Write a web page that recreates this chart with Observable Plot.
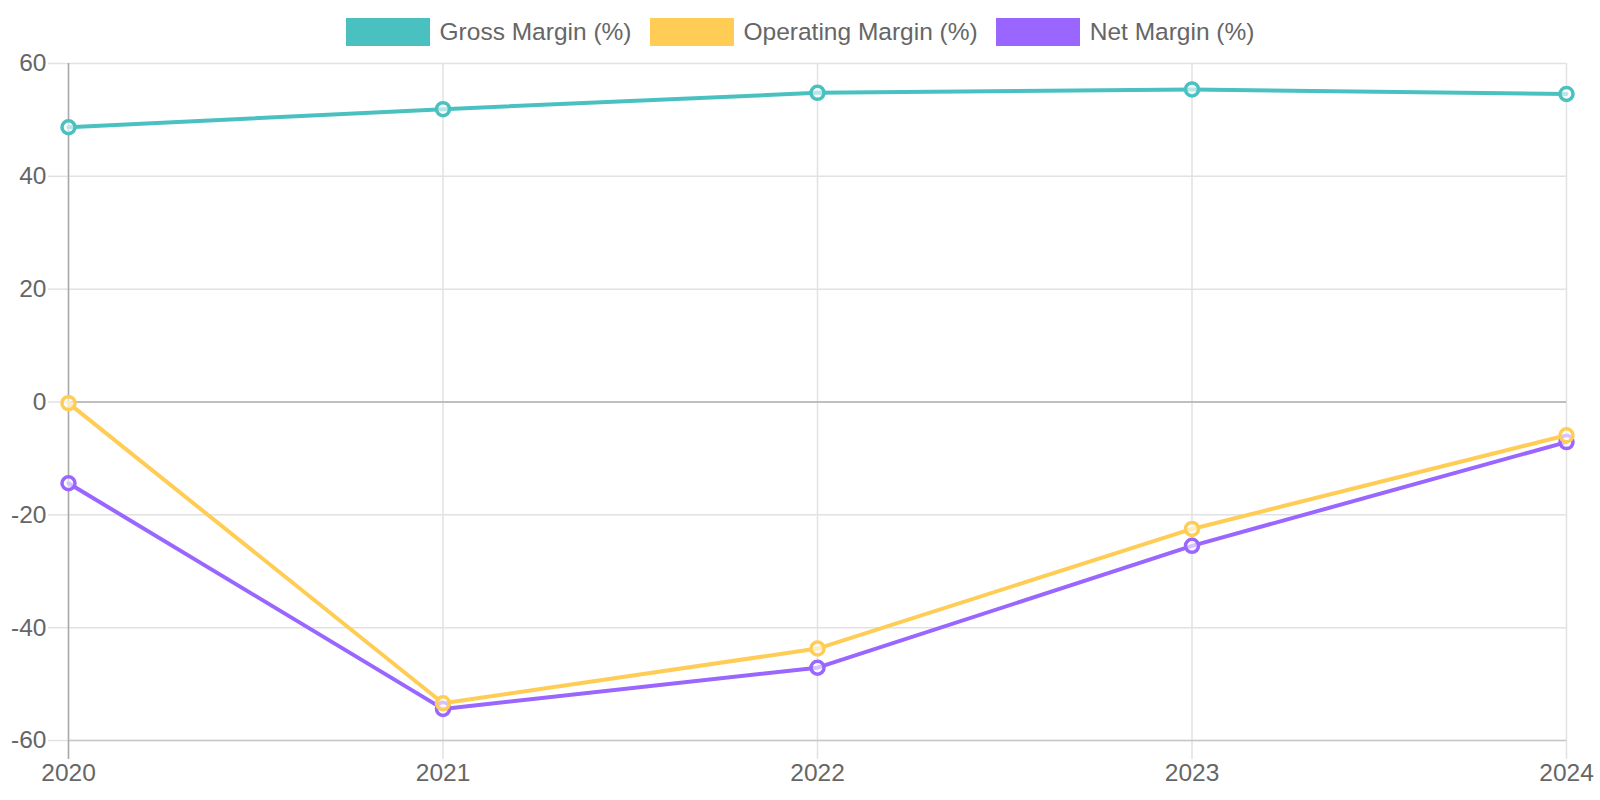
<!DOCTYPE html>
<html>
<head>
<meta charset="utf-8">
<script src="https://cdn.jsdelivr.net/npm/d3@7"></script>
<script src="https://cdn.jsdelivr.net/npm/@observablehq/plot@0.6"></script>
<style>
  html, body { margin: 0; padding: 0; background: #fff; }
  body { width: 1600px; height: 800px; overflow: hidden; font-family: "Liberation Sans", Arial, sans-serif; }
  #legend { height: 50px; display: flex; justify-content: center; align-items: flex-start; padding-top: 18px; box-sizing: border-box; }
  .item { display: flex; align-items: center; margin: 0 9px; color: #666; font-size: 24.5px; }
  .swatch { width: 84px; height: 28px; margin-right: 10px; }
  #chart svg { display: block; }
</style>
</head>
<body>
<div id="legend"></div>
<div id="chart"></div>
<script>
const years = [2020, 2021, 2022, 2023, 2024];
const seriesNames = ["Gross Margin (%)", "Operating Margin (%)", "Net Margin (%)"];
const seriesColors = ["#4BC0C0", "#FFCD56", "#9966FF"];
const grossMargin = [48.7, 51.9, 54.8, 55.4, 54.6];
const operatingMargin = [-0.2, -53.4, -43.7, -22.5, -5.9];
const netMargin = [-14.4, -54.4, -47.1, -25.5, -7.1];
const yTicks = [-60, -40, -20, 0, 20, 40, 60];

const seriesValues = [grossMargin, operatingMargin, netMargin];
// draw order: last dataset first so the first dataset sits on top (as in Chart.js)
const rows = [];
for (let s = seriesNames.length - 1; s >= 0; s--) {
  years.forEach((yr, i) => rows.push({year: yr, value: seriesValues[s][i], series: seriesNames[s]}));
}

// legend
const legend = document.getElementById("legend");
seriesNames.forEach((name, i) => {
  const it = document.createElement("div");
  it.className = "item";
  const sw = document.createElement("div");
  sw.className = "swatch";
  sw.style.background = seriesColors[i];
  const tx = document.createElement("span");
  tx.textContent = name;
  it.appendChild(sw); it.appendChild(tx);
  legend.appendChild(it);
});

const chart = Plot.plot({
  width: 1600,
  height: 750,
  marginLeft: 68,
  marginRight: 34,
  marginTop: 13,
  marginBottom: 60,
  style: {fontFamily: "'Liberation Sans', Arial, sans-serif", fontSize: "24px", color: "#666", background: "#fff"},
  x: {type: "linear", domain: [years[0], years[years.length - 1]], label: null},
  y: {domain: [-60, 60], label: null},
  color: {domain: seriesNames, range: seriesColors},
  marks: [
    Plot.gridY(yTicks, {stroke: "#e2e2e2", strokeOpacity: 1, strokeWidth: 1.5}),
    Plot.gridX(years, {stroke: "#e2e2e2", strokeOpacity: 1, strokeWidth: 1.5}),
    Plot.axisY(yTicks, {label: null, tickSize: 20, tickPadding: 2, stroke: "#e2e2e2", fill: "#666", fontSize: 24.5, strokeWidth: 1.5, tickFormat: d => String(d)}),
    Plot.axisX(years, {label: null, tickSize: 19, tickPadding: 4, stroke: "#e2e2e2", fill: "#666", fontSize: 24.5, strokeWidth: 1.5, tickFormat: d => String(d)}),
    Plot.ruleY([-60], {stroke: "#c8c8c8", strokeWidth: 1.5}),
    Plot.ruleY([0], {stroke: "#b0b0b0", strokeWidth: 1.5}),
    Plot.ruleX([years[0]], {stroke: "#a8a8a8", strokeWidth: 1.5, insetBottom: -19}),
    Plot.line(rows, {x: "year", y: "value", z: "series", stroke: "series", strokeWidth: 4}),
    Plot.dot(rows, {x: "year", y: "value", stroke: "series", r: 6.5, strokeWidth: 3.5, fill: "white", fillOpacity: 0.6})
  ]
});
document.getElementById("chart").appendChild(chart);
</script>
</body>
</html>
